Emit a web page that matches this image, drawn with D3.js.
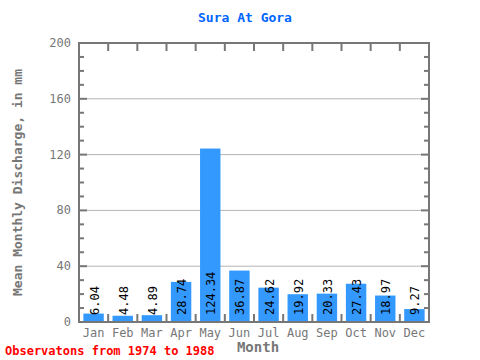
<!DOCTYPE html>
<html>
<head>
<meta charset="utf-8">
<script src="https://cdn.jsdelivr.net/npm/d3@7"></script>
<style>
  body { margin: 0; background: #fff; }
  text { font-family: "DejaVu Sans Mono", "Liberation Mono", monospace; }
</style>
</head>
<body>
<div id="chart"></div>
<script>
var months = ['Jan', 'Feb', 'Mar', 'Apr', 'May', 'Jun', 'Jul', 'Aug', 'Sep', 'Oct', 'Nov', 'Dec'];
var discharge = [6.04, 4.48, 4.89, 28.74, 124.34, 36.87, 24.62, 19.92, 20.33, 27.43, 18.97, 9.27];
var yTicks = [0, 40, 80, 120, 160, 200];
var yMinorTicks = d3.range(0, 201, 10);

var width = 480, height = 360;
var margin = {top: 43, right: 51, bottom: 38, left: 79};
var drawWidth = width - margin.left - margin.right;
var drawHeight = height - margin.top - margin.bottom;
var axisColor = '#777';

var svg = d3.select('#chart').append('svg')
  .attr('width', width)
  .attr('height', height);

var x = d3.scaleBand().domain(months).range([0, drawWidth]).paddingInner(0.3).paddingOuter(0.15);
var y = d3.scaleLinear().domain([0, 200]).range([drawHeight, 0]);

var g = svg.append('g')
  .attr('transform', 'translate(' + margin.left + ',' + margin.top + ')');

// gridlines
g.selectAll('line.grid')
  .data(yTicks.filter(function(d) { return d > 0 && d < 200; }))
  .enter().append('line')
    .attr('class', 'grid')
    .attr('x1', 0).attr('x2', drawWidth)
    .attr('y1', function(d) { return y(d); })
    .attr('y2', function(d) { return y(d); })
    .attr('stroke', '#b4b4b4')
    .attr('stroke-width', 1);

// bars
g.selectAll('rect.bar')
  .data(discharge)
  .enter().append('rect')
    .attr('class', 'bar')
    .attr('x', function(d, i) { return x(months[i]); })
    .attr('width', x.bandwidth())
    .attr('y', function(d) { return y(d); })
    .attr('height', function(d) { return drawHeight - y(d); })
    .attr('fill', '#3399ff');

// value labels
g.selectAll('text.value')
  .data(discharge)
  .enter().append('text')
    .attr('class', 'value')
    .attr('transform', function(d, i) {
      return 'translate(' + (x(months[i]) + x.bandwidth() / 2 + 5) + ',' + (drawHeight - 7) + ') rotate(-90)';
    })
    .attr('font-size', 12)
    .attr('fill', '#000')
    .text(function(d) { return d.toFixed(2); });

// minor ticks on left and right, inside
g.selectAll('line.minorL')
  .data(yMinorTicks)
  .enter().append('line')
    .attr('x1', 0).attr('x2', function(d) { return d % 40 === 0 ? 8 : 5; })
    .attr('y1', function(d) { return y(d); })
    .attr('y2', function(d) { return y(d); })
    .attr('stroke', axisColor).attr('stroke-width', 2);

g.selectAll('line.minorR')
  .data(yMinorTicks)
  .enter().append('line')
    .attr('x1', drawWidth).attr('x2', function(d) { return drawWidth - (d % 40 === 0 ? 8 : 5); })
    .attr('y1', function(d) { return y(d); })
    .attr('y2', function(d) { return y(d); })
    .attr('stroke', axisColor).attr('stroke-width', 2);

// band boundary ticks top and bottom
var bounds = d3.range(1, months.length).map(function(i) { return i * drawWidth / months.length; });
g.selectAll('line.tickB')
  .data(bounds)
  .enter().append('line')
    .attr('x1', function(d) { return d; }).attr('x2', function(d) { return d; })
    .attr('y1', drawHeight).attr('y2', drawHeight - 8)
    .attr('stroke', axisColor).attr('stroke-width', 2);
g.selectAll('line.tickT')
  .data(bounds)
  .enter().append('line')
    .attr('x1', function(d) { return d; }).attr('x2', function(d) { return d; })
    .attr('y1', 0).attr('y2', 8)
    .attr('stroke', axisColor).attr('stroke-width', 2);

// frame
g.append('rect')
  .attr('x', 0).attr('y', 0)
  .attr('width', drawWidth).attr('height', drawHeight)
  .attr('fill', 'none')
  .attr('stroke', axisColor).attr('stroke-width', 2);

// y tick labels
g.selectAll('text.ylab')
  .data(yTicks)
  .enter().append('text')
    .attr('x', -8)
    .attr('y', function(d) { return y(d) + 4; })
    .attr('text-anchor', 'end')
    .attr('font-size', 12)
    .attr('fill', axisColor)
    .text(function(d) { return d; });

// x tick labels
g.selectAll('text.xlab')
  .data(months)
  .enter().append('text')
    .attr('x', function(d) { return x(d) + x.bandwidth() / 2; })
    .attr('y', drawHeight + 15)
    .attr('text-anchor', 'middle')
    .attr('font-size', 12)
    .attr('fill', axisColor)
    .text(function(d) { return d; });

// title
svg.append('text')
  .attr('x', 245).attr('y', 22)
  .attr('text-anchor', 'middle')
  .attr('font-size', 13).attr('font-weight', 'bold')
  .attr('fill', '#0066ff')
  .text('Sura At Gora');

// axis titles
svg.append('text')
  .attr('x', 258).attr('y', 352)
  .attr('text-anchor', 'middle')
  .attr('font-size', 14).attr('font-weight', 'bold')
  .attr('fill', axisColor)
  .text('Month');

svg.append('text')
  .attr('transform', 'translate(22,' + (margin.top + drawHeight / 2) + ') rotate(-90)')
  .attr('text-anchor', 'middle')
  .attr('font-size', 13).attr('font-weight', 'bold')
  .attr('fill', axisColor)
  .text('Mean Monthly Discharge, in mm');

svg.append('text')
  .attr('x', 5).attr('y', 355)
  .attr('font-size', 12).attr('font-weight', 'bold')
  .attr('fill', '#ff0000')
  .text('Observatons from 1974 to 1988');
</script>
</body>
</html>
